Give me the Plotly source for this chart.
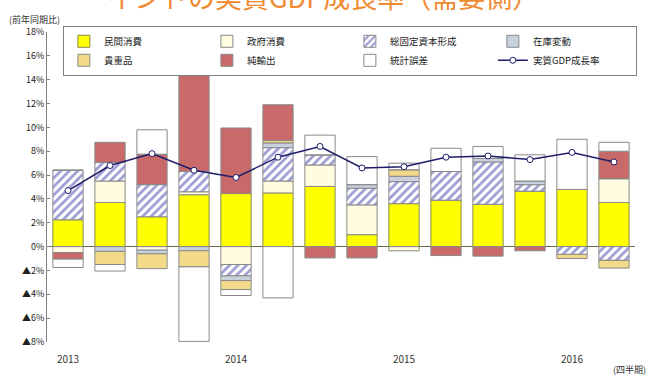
import plotly.graph_objects as go

quarters = ["2013Q1", "2013Q2", "2013Q3", "2013Q4",
            "2014Q1", "2014Q2", "2014Q3", "2014Q4",
            "2015Q1", "2015Q2", "2015Q3", "2015Q4",
            "2016Q1", "2016Q2"]
year_labels = ["2013", "2014", "2015", "2016"]

private_cons = [2.25, 3.7, 2.5, 4.35, 4.45, 4.5, 5.05, 1.0, 3.6, 3.9, 3.55, 4.65, 4.8, 3.7]
gov_cons = [-0.5, 1.8, -0.3, 0.25, -1.5, 1.0, 1.8, 2.5, -0.35, 0, 0, 0, 0, 2.0]
gfcf = [4.15, 1.55, 2.7, 1.7, -0.95, 2.8, 0.85, 1.4, 1.85, 2.4, 3.55, 0.55, -0.65, -1.15]
inventory = [0, -0.4, -0.3, -0.35, -0.4, 0.4, 0, 0.3, 0.45, 0, 0.3, 0.3, 0, 0]
valuables = [0, -1.1, -1.25, -1.35, -0.75, 0.2, 0, 0, 0.55, 0, 0, 0, -0.35, -0.65]
net_exports = [-0.55, 1.7, 2.55, 8.2, 5.5, 3.0, -0.95, -0.95, 0, -0.75, -0.8, -0.35, 0, 2.3]
discrepancy = [-0.7, -0.55, 2.05, -6.25, -0.5, -4.3, 1.65, 2.35, 0.55, 1.95, 1.0, 2.2, 4.2, 0.75]
gdp_growth = [4.7, 6.8, 7.8, 6.4, 5.8, 7.5, 8.4, 6.6, 6.7, 7.5, 7.6, 7.3, 7.9, 7.1]

y_ticks = list(range(-8, 19, 2))
y_ticktext = [("▲%d%%" % -v) if v < 0 else ("%d%%" % v) for v in y_ticks]

x = list(range(len(quarters)))
year_pos = [quarters.index(y + "Q1") for y in year_labels]

FONT = "Noto Sans CJK JP"
OUTLINE = "#8a8a8a"

fig = go.Figure()

def add_bar(name, vals, color, pattern=None, line_color=OUTLINE):
    marker = dict(color=color, line=dict(color=line_color, width=1))
    if pattern:
        marker["pattern"] = pattern
    fig.add_trace(go.Bar(x=x, y=vals, name=name, marker=marker, width=0.72))

add_bar("民間消費", private_cons, "#FFFF00", line_color="#8a8a50")
add_bar("政府消費", gov_cons, "#FFFCE0")
add_bar("総固定資本形成", gfcf, "#FFFFFF",
        pattern=dict(shape="/", fgcolor="#3838A8", bgcolor="#FFFFFF", size=6, solidity=0.45))
add_bar("在庫変動", inventory, "#C8D2DE")
add_bar("貴重品", valuables, "#F3DA8A")
add_bar("純輸出", net_exports, "#C86A6A")
add_bar("統計誤差", discrepancy, "#FFFFFF")

fig.add_trace(go.Scatter(x=x, y=gdp_growth, name="実質GDP成長率", mode="lines+markers",
                         line=dict(color="#1E1E6A", width=1.5),
                         marker=dict(symbol="circle", size=6, color="#FFFFFF",
                                     line=dict(color="#1E1E6A", width=1))))

fig.update_layout(
    width=651, height=380,
    margin=dict(l=47, r=16, t=32, b=38),
    paper_bgcolor="white", plot_bgcolor="white",
    barmode="relative", bargap=0.28,
    font=dict(family=FONT, size=9, color="#333333"),
    legend=dict(orientation="h", x=0.027, xanchor="left", y=1.02, yanchor="top",
                bgcolor="white", bordercolor="#808080", borderwidth=1,
                entrywidth=98, entrywidthmode="pixels", traceorder="normal",
                font=dict(family=FONT, size=9.5, color="#222222"),
                itemwidth=30, tracegroupgap=0),
    showlegend=True,
    xaxis=dict(range=[-0.5, len(quarters) - 0.5], tickmode="array",
               tickvals=year_pos, ticktext=year_labels,
               ticks="outside", ticklen=8, tickcolor="rgba(0,0,0,0)",
               showgrid=False, zeroline=False, showline=False,
               tickfont=dict(family=FONT, size=10, color="#333333")),
    yaxis=dict(range=[-8, 18], tickmode="array", tickvals=y_ticks, ticktext=y_ticktext,
               ticks="inside", ticklen=3, tickcolor="#808080",
               showline=True, linecolor="#808080", linewidth=1,
               showgrid=False, zeroline=True, zerolinecolor="#6a6a40", zerolinewidth=1,
               tickfont=dict(family=FONT, size=9, color="#222222")),
)

fig.add_annotation(text="インドの実質GDP成長率（需要側）", xref="paper", yref="paper",
                   x=0.47, y=1.116, xanchor="center", yanchor="middle", showarrow=False,
                   font=dict(family=FONT, size=27, color="#F08A30"))
fig.add_annotation(text="(前年同期比)", xref="paper", yref="paper", x=-0.068, y=1.039,
                   xanchor="left", yanchor="middle", showarrow=False,
                   font=dict(family=FONT, size=9, color="#333333"))
fig.add_annotation(text="(四半期)", xref="paper", yref="paper", x=1.022, y=-0.09,
                   xanchor="right", yanchor="middle", showarrow=False,
                   font=dict(family=FONT, size=9, color="#333333"))

fig.write_html("out.html")
